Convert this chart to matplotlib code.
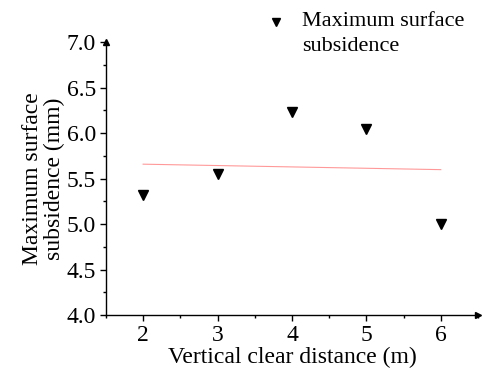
import numpy as np
import matplotlib
matplotlib.use("Agg")
import matplotlib.pyplot as plt
from matplotlib.ticker import MultipleLocator

plt.rcParams['font.family'] = ['Liberation Serif', 'DejaVu Serif']

distance = [2, 3, 4, 5, 6]
subsidence = [5.32, 5.55, 6.23, 6.04, 5.00]
series_name = 'Maximum surface\nsubsidence'

fig = plt.figure(figsize=(4.86, 3.72), dpi=100)
ax = fig.add_axes([0.218, 0.153, 0.7655, 0.734])

# linear fit of the points
slope, intercept = np.polyfit(distance, subsidence, 1)
fit_x = np.array([distance[0], distance[-1]])
ax.plot(fit_x, slope * fit_x + intercept, color='#ff8080', lw=0.8, alpha=0.8)

ax.plot(distance, subsidence, linestyle='none', marker='v', ms=6.5,
        color='black')

ax.set_xlim(1.5, 6.5)
ax.set_ylim(4.0, 7.0)
ax.xaxis.set_major_locator(MultipleLocator(1))
ax.xaxis.set_minor_locator(MultipleLocator(0.5))
ax.yaxis.set_major_locator(MultipleLocator(0.5))
ax.yaxis.set_minor_locator(MultipleLocator(0.25))
ax.yaxis.set_major_formatter(plt.FormatStrFormatter('%.1f'))

for side in ('top', 'right'):
    ax.spines[side].set_visible(False)
for side in ('left', 'bottom'):
    ax.spines[side].set_linewidth(1.0)

ax.tick_params(which='major', direction='out', length=4, width=1,
               labelsize=17, pad=3)
ax.tick_params(which='minor', direction='out', length=2.5, width=1)

# arrow heads on the axes
ax.plot(0, 1, marker='^', ms=5, color='black', transform=ax.transAxes,
        clip_on=False)
ax.plot(1, 0, marker='>', ms=5, color='black', transform=ax.transAxes,
        clip_on=False)

ax.set_xlabel('Vertical clear distance (m)', fontsize=17, labelpad=1)
ax.set_ylabel('Maximum surface\nsubsidence (mm)', fontsize=17,
              labelpad=1, linespacing=1.1)

# legend drawn by hand: marker next to the first line of the label
ax.plot(276 / 486, 1 - 22 / 372, marker='v', ms=5.5, color='black',
        transform=fig.transFigure, clip_on=False)
fig.text(302 / 486, 1 - 12 / 372, series_name, fontsize=16, va='top',
         ha='left', linespacing=1.45)

fig.savefig('out.png', dpi=100)
